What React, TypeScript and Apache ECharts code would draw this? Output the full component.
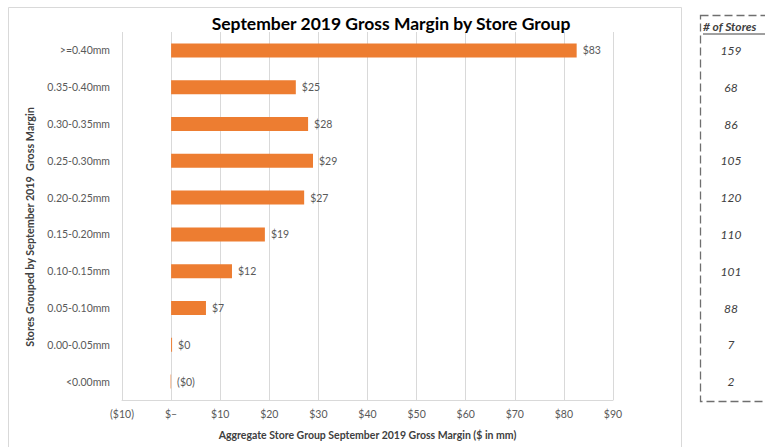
import React, { useEffect, useRef } from "react";
import * as echarts from "echarts";

// Store groups by September 2019 gross margin band (top to bottom)
const storeGroups = [
  ">=0.40mm",
  "0.35-0.40mm",
  "0.30-0.35mm",
  "0.25-0.30mm",
  "0.20-0.25mm",
  "0.15-0.20mm",
  "0.10-0.15mm",
  "0.05-0.10mm",
  "0.00-0.05mm",
  "<0.00mm",
];

// Aggregate gross margin per group, $ in mm
const grossMargin = [82.6, 25.4, 27.9, 28.9, 27.1, 19.1, 12.4, 7.1, 0.2, -0.1];

// Number of stores in each group
const storeCounts = ["159", "68", "86", "105", "120", "110", "101", "88", "7", "2"];

const FONT = "Lato, 'Open Sans', sans-serif";
const ORANGE = "#ed7d31";
const GRID = "#d9d9d9";
const TEXT = "#595959";

function money(v: number): string {
  const r = Math.round(Math.abs(v));
  if (v < 0) return `($${r})`;
  return `$${r}`;
}

function axisMoney(v: number): string {
  if (v === 0) return "$\u2013";
  if (v < 0) return `($${-v})`;
  return `$${v}`;
}

export default function App() {
  const ref = useRef<HTMLDivElement>(null);

  useEffect(() => {
    if (!ref.current) return;
    const chart = echarts.init(ref.current, undefined, { renderer: "svg" });
    chart.setOption({
      animation: false,
      backgroundColor: "#ffffff",
      textStyle: { fontFamily: FONT },
      title: {
        text: "September 2019 Gross Margin by Store Group",
        left: 386,
        top: 9,
        textAlign: "center",
        textStyle: { fontFamily: FONT, fontSize: 17.5, fontWeight: "bold", color: "#000000" },
      },
      grid: { left: 122, right: 152, top: 32, bottom: 47, containLabel: false },
      xAxis: {
        type: "value",
        min: -10,
        max: 90,
        interval: 10,
        axisLine: { show: true, lineStyle: { color: GRID } },
        axisTick: { show: false },
        splitLine: { show: true, lineStyle: { color: GRID, width: 1 } },
        axisLabel: { formatter: axisMoney, color: TEXT, fontSize: 10.5, fontFamily: FONT, margin: 8 },
        name: "Aggregate Store Group September 2019 Gross Margin ($ in mm)",
        nameLocation: "middle",
        nameGap: 29,
        nameTextStyle: { fontFamily: FONT, fontSize: 10.5, fontWeight: "bold", color: "#404040" },
      },
      yAxis: [
        {
          type: "category",
          data: storeGroups,
          inverse: true,
          axisLine: { show: false, onZero: false },
          axisTick: { show: false },
          axisLabel: { color: TEXT, fontSize: 10.5, fontFamily: FONT, margin: 12 },
          name: "Stores Grouped by September 2019  Gross Margin",
          nameLocation: "middle",
          nameGap: 87,
          nameRotate: 90,
          nameTextStyle: {
            fontFamily: FONT,
            fontSize: 10.75,
            fontWeight: "bold",
            color: "#404040",
            padding: [0, 22, 0, 0],
          },
        },
        {
          type: "category",
          data: storeCounts,
          inverse: true,
          position: "right",
          axisLine: { show: false, onZero: false },
          axisTick: { show: false },
          axisLabel: {
            color: "#404040",
            fontSize: 12,
            fontStyle: "italic",
            fontFamily: FONT,
            align: "center",
            margin: 118,
          },
        },
      ],
      series: [
        {
          type: "bar",
          yAxisIndex: 0,
          data: grossMargin,
          barWidth: 14,
          itemStyle: { color: ORANGE },
          label: {
            show: true,
            position: "right",
            distance: 6,
            formatter: (p: any) => money(p.value),
            color: TEXT,
            fontSize: 10.5,
            fontFamily: FONT,
          },
        },
      ],
      graphic: [
        {
          type: "rect",
          shape: { x: 8.5, y: 7.5, width: 673, height: 460 },
          style: { fill: "none", stroke: GRID, lineWidth: 1 },
          silent: true,
        },
        {
          type: "rect",
          shape: { x: 700.5, y: 15.5, width: 90, height: 386 },
          style: { fill: "none", stroke: "#6f6f6f", lineWidth: 1.3, lineDash: [8, 4] },
          silent: true,
        },
        {
          type: "text",
          x: 703,
          y: 20,
          style: {
            text: "# of Stores",
            fontFamily: FONT,
            fontSize: 12,
            fontWeight: "bold",
            fontStyle: "italic",
            fill: "#404040",
          },
        },
        {
          type: "line",
          shape: { x1: 703, y1: 34, x2: 765, y2: 34 },
          style: { stroke: "#404040", lineWidth: 1 },
        },
      ],
    });
    return () => chart.dispose();
  }, []);

  return <div ref={ref} style={{ width: 765, height: 447, position: "absolute", left: 0, top: 0 }} />;
}
